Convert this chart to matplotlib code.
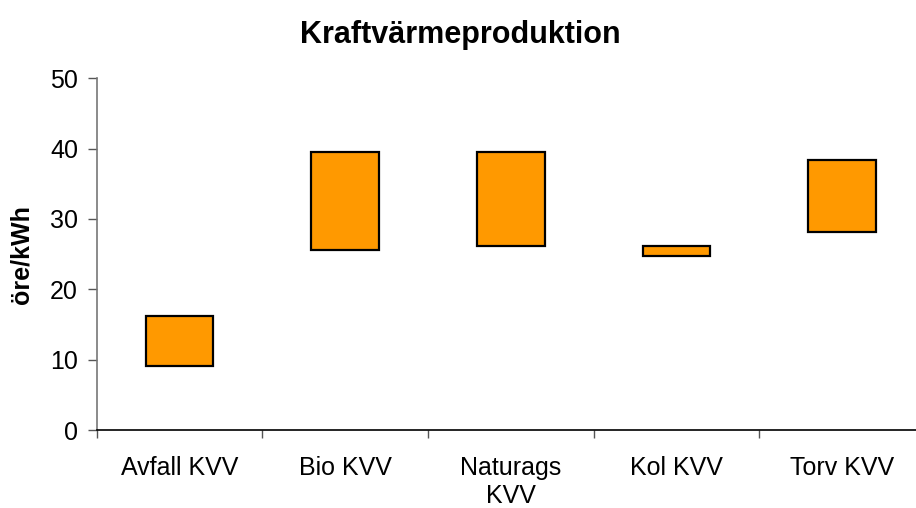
import numpy as np
import matplotlib
matplotlib.use('Agg')
import matplotlib.pyplot as plt

plt.rcParams['font.family'] = ['Liberation Sans', 'DejaVu Sans']

# cost ranges per plant type (öre/kWh)
categories = ['Avfall KVV', 'Bio KVV', 'Naturags\nKVV', 'Kol KVV', 'Torv KVV']
low = [9.1, 25.6, 26.1, 24.7, 28.1]
high = [16.2, 39.5, 39.5, 26.2, 38.4]

W, H = 916, 508
fig = plt.figure(figsize=(W / 100, H / 100), dpi=100)
ax = fig.add_axes([96.7 / W, 1 - 430 / H, (925 - 96.7) / W, (430 - 78.3) / H])

x = np.arange(len(categories))
ax.bar(x, np.array(high) - np.array(low), bottom=low, width=0.41,
       color='#FF9900', edgecolor='black', linewidth=1.6, zorder=3)

ax.set_xlim(-0.5, len(categories) - 0.5)
ax.set_ylim(0, 50)
ax.set_yticks(range(0, 51, 10))

ax.set_xticks(x)
ax.set_xticklabels(categories, fontsize=18)
ax.set_xticks(np.arange(-0.5, len(categories), 1), minor=True)
ax.tick_params(axis='x', which='major', length=0, pad=19)
ax.tick_params(axis='x', which='minor', length=6, width=1, color='#555555')
ax.tick_params(axis='y', length=6.5, width=1, labelsize=18, color='#555555', pad=7)

for s in ['top', 'right']:
    ax.spines[s].set_visible(False)
ax.spines['left'].set_color('#777777')
ax.spines['bottom'].set_color('black')
ax.spines['left'].set_linewidth(1.2)
ax.spines['bottom'].set_linewidth(1.2)

ax.set_ylabel('öre/kWh', fontsize=18, fontweight='bold')
ax.yaxis.set_label_coords(-(96.7 - 33) / (925 - 96.7), 0.5)
fig.text(460.5 / W, 1 - 43.3 / H, 'Kraftvärmeproduktion', ha='center', va='baseline',
         fontsize=22, fontweight='bold')

fig.savefig('out.png', dpi=100)
